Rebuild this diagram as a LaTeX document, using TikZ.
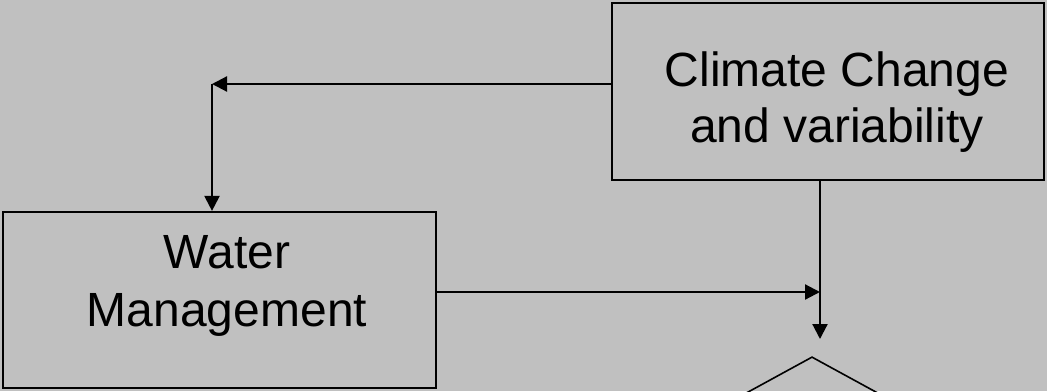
\documentclass[tikz,border=0pt]{standalone}
\usepackage{fontspec}
\setmainfont{Liberation Sans}
\usetikzlibrary{arrows.meta,shapes.geometric}
\definecolor{bg}{HTML}{C0C0C0}
\begin{document}
\begin{tikzpicture}[x=1pt,y=1pt,
  box/.style={draw=black,line width=2.2pt,inner sep=0pt,rectangle},
  lbl/.style={align=center,font=\fontsize{48}{56}\selectfont,inner sep=0pt,anchor=base},
  arr/.style={draw=black,line width=2.2pt,-{Triangle[length=15pt,width=15pt]}},
  decision/.style={draw=black,line width=1.6pt,diamond,inner sep=0pt,minimum width=320pt,minimum height=175pt}]
\useasboundingbox (0,0) rectangle (1047,-391);
\fill[bg] (0,0) rectangle (1047,-391);
\clip (0,0) rectangle (1047,-391);
% boxes
\node[box,minimum width=432pt,minimum height=177pt] (cc) at (828,-91.5) {};
\node[lbl] (cct) at (837,-142) {Climate Change\\and variability};
\node[box,minimum width=433pt,minimum height=176pt] (wm) at (219.5,-300) {};
\node[lbl,font=\fontsize{48}{58}\selectfont] (wmt) at (227,-326) {Water\\Management};
\node[decision,anchor=north] (dm) at (812,-356) {};
% connector points
\coordinate (corner) at (212,-84);
\coordinate (junction) at (820,-292);
\coordinate (tip) at (820,-339);
% connectors
\draw[arr] (corner -| cc.west) -- (corner);
\draw[arr] (corner) -- (corner |- wm.north);
\draw[arr] (wm.east |- junction) -- (junction);
\draw[arr] (cc.south -| tip) -- (tip);
\end{tikzpicture}
\end{document}
